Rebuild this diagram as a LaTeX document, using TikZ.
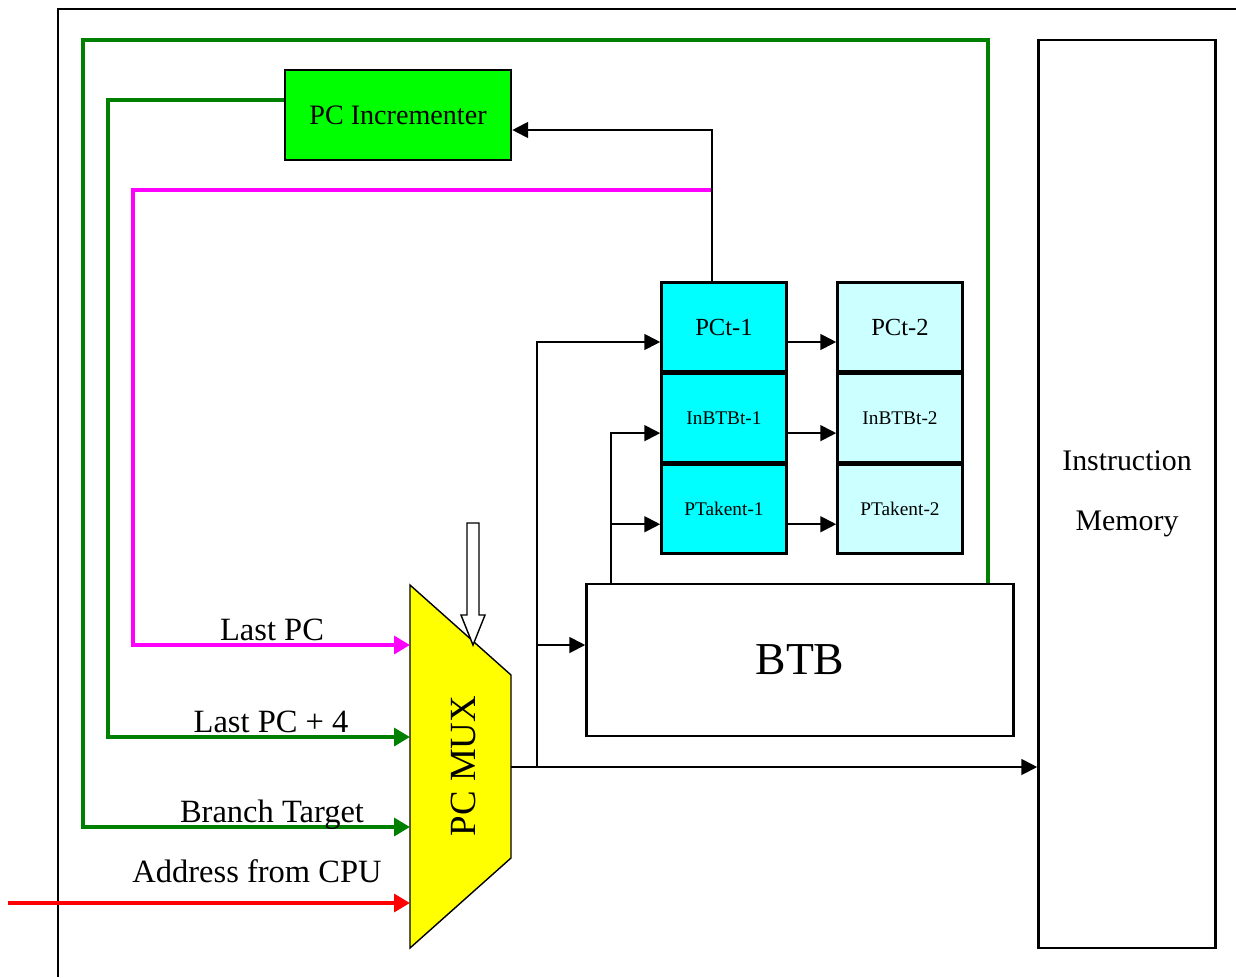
\documentclass[tikz,border=0pt]{standalone}
\usepackage{fontspec}
\setmainfont{Liberation Serif}
\usetikzlibrary{calc, positioning, arrows.meta}
\definecolor{dgreen}{RGB}{0,128,0}
\definecolor{lgreen}{RGB}{0,255,0}
\definecolor{rcyan}{RGB}{0,255,255}
\definecolor{lcyan}{RGB}{204,255,255}
\definecolor{pcmag}{RGB}{255,0,255}
\definecolor{pcyel}{RGB}{255,255,0}

\begin{document}
\begin{tikzpicture}[x=0.02cm,y=-0.02cm]
  \tikzset{box/.style={draw,line width=1.5pt,inner sep=0},
    reg/.style={box,minimum width=2.5cm,minimum height=1.77cm,font=\fontsize{11}{13}\selectfont},
    wire/.style={line width=1.1pt,-{Triangle[length=9pt,width=9pt]}},
    bus/.style={line width=2.4pt,-{Triangle[length=9pt,width=10pt]}},
    lbl/.style={anchor=base,inner sep=0,font=\fontsize{18.5}{22}\selectfont}}
  \useasboundingbox (0,0) rectangle (1236,977);
  \draw[line width=1.1pt] (1236,9) -- (58,9) -- (58,977);
  \node[box,fill=lgreen,minimum width=4.52cm,minimum height=1.8cm,font=\fontsize{16}{19}\selectfont] (inc) at (398,115) {PC Incrementer};
  \node[reg,fill=rcyan,font=\fontsize{14}{16}\selectfont] (p1) at (724,327) {PCt-1};
  \node[reg,fill=rcyan,below=0pt of p1] (b1) {InBTBt-1};
  \node[reg,fill=rcyan,below=0pt of b1] (t1) {PTakent-1};
  \node[reg,fill=lcyan,font=\fontsize{14}{16}\selectfont] (p2) at (900,327) {PCt-2};
  \node[reg,fill=lcyan,below=0pt of p2] (b2) {InBTBt-2};
  \node[reg,fill=lcyan,below=0pt of b2] (t2) {PTakent-2};
  \node[box,minimum width=8.54cm,minimum height=3.04cm,font=\fontsize{26}{30}\selectfont] (btb) at (800,660) {BTB};
  \node[box,minimum width=3.54cm,minimum height=18.16cm,align=center,font=\fontsize{17}{34}\selectfont] (im) at (1127,494) {Instruction\\Memory};
  \coordinate (mA) at (410,585);
  \coordinate (mB) at (511,675);
  \coordinate (mC) at (511,858);
  \coordinate (mD) at (410,948);
  \draw[fill=pcyel,line width=0.8pt] (mA) -- (mB) -- (mC) -- (mD) -- cycle;
  \node[rotate=90,font=\fontsize{21}{24}\selectfont] (mux) at (463,766) {PC MUX};
  \draw[fill=white,line width=0.8pt] (467,523) -- (479,523) -- (479,615) -- (485,615)
    -- (473,645) -- (461,615) -- (467,615) -- cycle;
  \coordinate (in1) at (410,645);
  \coordinate (in2) at (410,737);
  \coordinate (in3) at (410,827);
  \coordinate (in4) at (410,903);
  \coordinate (out) at (511,767);
  \coordinate (cpu) at (8,903);
  \coordinate (tap) at (712,190);
  \coordinate (gtop) at (988,40);
  \coordinate (j1) at (537,767);
  \coordinate (bx) at (611,523);
  \coordinate (ta) at ([yshift=-0.3cm]t1.west);
  \draw[bus,dgreen] (btb.north -| gtop) -- (gtop) -| (83,827) -- (in3);
  \draw[bus,dgreen] ([yshift=0.3cm]inc.west) -| (108,737) -- (in2);
  \draw[bus,pcmag] (tap) -| (133,645) -- (in1);
  \draw[bus,red] (cpu) -- (in4);
  \draw[wire] (tap |- p1.north) -- (tap) |- ([yshift=-0.3cm]inc.east);
  \draw[wire] (out) -- (out -| im.west);
  \draw[wire] (j1) |- ([yshift=-0.3cm]p1.west);
  \draw[wire] (j1 |- in1) -- ([yshift=0.3cm]btb.west);
  \draw[wire] (bx |- btb.north) |- ([yshift=-0.3cm]b1.west);
  \draw[wire] (bx |- ta) -- (ta);
  \draw[wire] ([yshift=-0.3cm]p1.east) -- ([yshift=-0.3cm]p2.west);
  \draw[wire] ([yshift=-0.3cm]b1.east) -- ([yshift=-0.3cm]b2.west);
  \draw[wire] ([yshift=-0.3cm]t1.east) -- ([yshift=-0.3cm]t2.west);
  \node[lbl] (lpc) at (272,640) {Last PC};
  \node[lbl] (lpc4) at (271,732) {Last PC + 4};
  \node[lbl] (btl) at (272,822) {Branch Target};
  \node[lbl] (acpu) at (257,882) {Address from CPU};
\end{tikzpicture}
\end{document}
